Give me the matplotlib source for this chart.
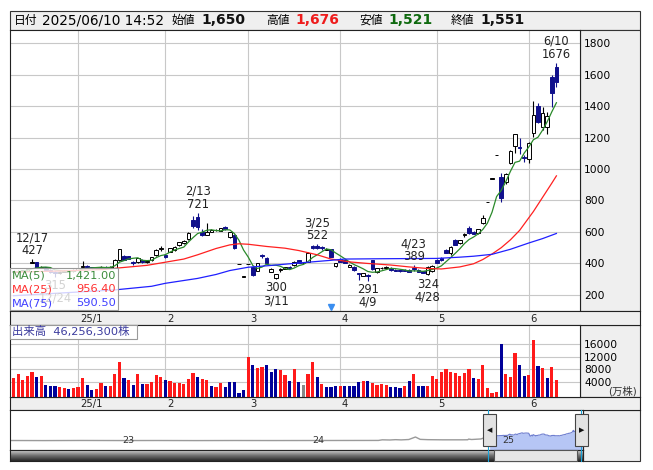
import numpy as np
import pandas as pd
import matplotlib
matplotlib.use("Agg")
import matplotlib.pyplot as plt
from matplotlib.patches import Rectangle
from matplotlib.lines import Line2D
from matplotlib.colors import LinearSegmentedColormap

plt.rcParams["font.family"] = ["DejaVu Sans", "Noto Sans CJK JP"]

# --- 取引日 (2024/12/11 - 2025/06/10) ---
holidays = ["2024-12-31", "2025-01-01", "2025-01-02", "2025-01-03", "2025-01-13",
            "2025-02-11", "2025-02-24", "2025-03-20", "2025-04-29", "2025-05-05", "2025-05-06"]
dates = pd.bdate_range("2024-12-11", "2025-06-10", freq="C", holidays=holidays)

opens = [345, 348, 350, 355, 405, 408, 372, 378, 358, 345,
         340, 348, 355, 350, 360, 375, 383, 377, 370, 372,
         378, 372, 372, 422, 448, 445, 411, 411, 425, 410,
         422, 454, 494, 454, 475, 486, 517, 528, 554, 676,
         697, 602, 581, 602, 612, 608, 634, 566, 581, 397,
         317, 397, 380, 354, 452, 433, 348, 306, 360, 366,
         380, 390, 420, 400, 411, 510, 510, 507, 488, 492,
         386, 428, 422, 380, 380, 340, 323, 325, 420, 345,
         370, 372, 372, 360, 356, 358, 360, 368, 358, 350,
         333, 350, 425, 435, 486, 467, 549, 528, 583, 625,
         600, 594, 657, 789, 939, 1089, 950, 917, 1038, 1146,
         1140, 1078, 1063, 1228, 1400, 1269, 1269, 1586, 1650]
highs = [358, 356, 360, 368, 427, 410, 385, 380, 362, 350,
         352, 358, 358, 364, 372, 416, 388, 380, 378, 382,
         381, 384, 426, 495, 452, 448, 414, 436, 428, 422,
         442, 490, 510, 458, 500, 510, 538, 546, 600, 700,
         721, 620, 657, 618, 620, 628, 638, 602, 590, 397,
         317, 397, 385, 405, 460, 438, 368, 335, 372, 380,
         384, 415, 424, 410, 475, 515, 522, 510, 500, 495,
         405, 432, 425, 394, 384, 341, 340, 330, 425, 372,
         380, 384, 376, 364, 360, 362, 364, 389, 362, 354,
         382, 388, 430, 440, 492, 512, 555, 552, 595, 635,
         604, 622, 708, 789, 939, 1089, 975, 975, 1120, 1225,
         1200, 1090, 1170, 1434, 1421, 1394, 1360, 1600, 1676]
lows = [340, 344, 347, 350, 400, 368, 368, 356, 342, 315,
        336, 345, 346, 348, 356, 370, 372, 366, 366, 368,
        368, 370, 370, 418, 420, 426, 392, 405, 405, 406,
        418, 450, 480, 436, 470, 482, 512, 524, 550, 625,
        613, 575, 578, 598, 606, 604, 612, 560, 490, 397,
        317, 397, 320, 350, 432, 400, 345, 300, 348, 362,
        368, 386, 400, 396, 408, 490, 495, 488, 484, 440,
        380, 408, 402, 376, 355, 296, 318, 291, 360, 340,
        364, 366, 355, 352, 348, 350, 343, 355, 345, 338,
        324, 346, 400, 415, 465, 455, 515, 524, 565, 590,
        588, 590, 650, 789, 939, 1089, 790, 905, 1030, 1100,
        1095, 1045, 1040, 1205, 1290, 1250, 1225, 1396, 1521]
closes = [350, 352, 356, 362, 412, 372, 380, 360, 345, 340,
          348, 355, 350, 360, 368, 385, 375, 370, 374, 378,
          372, 380, 422, 490, 425, 430, 400, 433, 410, 418,
          439, 486, 498, 440, 497, 507, 535, 543, 596, 640,
          634, 581, 602, 613, 614, 624, 617, 598, 497, 397,
          317, 397, 327, 401, 445, 405, 363, 331, 365, 375,
          372, 411, 405, 405, 469, 500, 498, 500, 492, 443,
          401, 411, 405, 390, 359, 336, 338, 320, 365, 370,
          374, 378, 358, 355, 350, 353, 345, 362, 348, 340,
          378, 384, 405, 420, 469, 507, 520, 549, 587, 595,
          590, 619, 689, 789, 939, 1089, 815, 968, 1114, 1222,
          1133, 1068, 1165, 1343, 1300, 1357, 1336, 1480, 1551]

# 出来高 (万株)
volumes = [5200, 6400, 4500, 5900, 7100, 5550, 5800, 2860, 2540, 2540,
           2300, 2000, 1700, 2000, 2300, 5200, 2860, 1250, 1700, 3600,
           2650, 2650, 6400, 10400, 5200, 4500, 2860, 6400, 3200, 3200,
           3940, 6100, 5450, 4500, 4150, 3500, 3500, 3100, 4800, 6840,
           5450, 4800, 4500, 2540, 2300, 3500, 2300, 3830, 3830, 400,
           1250, 12000, 9300, 8450, 8670, 9300, 7160, 8000, 7700, 6100,
           4150, 8000, 3830, 2860, 6400, 10300, 5450, 3400, 2200, 2200,
           2540, 2540, 2540, 2540, 2540, 3830, 4150, 4150, 3500, 2860,
           3300, 2860, 2200, 2200, 1900, 2540, 4150, 6400, 2540, 2540,
           2540, 5770, 4800, 7050, 8000, 7050, 6730, 5770, 6730, 8000,
           5100, 4800, 9300, 1900, 280, 600, 16000, 6400, 5450, 13200,
           9300, 5770, 6100, 17400, 9000, 8350, 5100, 8670, 4626]
# u = 前日比上昇, d = 下落, n = 変わらず
vol_dir = ("uuuuududdd" "uuduuudduu" "duuudududu" "uuuduuuuuu"
           "duuduudddd" "duduuddduu" "dudnuududd" "dudddduduu" "uudddududd"
           "uuuuuuuuuu" "duuuuuduuu" "dduududuu")

ma5 = [345, 348, 352, 356,
       366, 371, 376, 377, 374, 359, 355, 350, 348, 351,
       356, 364, 368, 372, 374, 376, 374, 375, 385, 408,
       418, 429, 433, 436, 420, 418, 420, 437, 450, 456,
       472, 486, 495, 504, 536, 564, 590, 599, 611, 614,
       609, 607, 614, 613, 590, 547, 485, 441, 387, 368,
       377, 395, 388, 389, 382, 368, 361, 371, 386, 394,
       412, 438, 455, 474, 492, 487, 467, 449, 430, 410,
       393, 380, 366, 349, 344, 346, 353, 361, 369, 367,
       363, 359, 352, 353, 352, 350, 355, 362, 371, 385,
       411, 437, 464, 493, 526, 552, 568, 588, 616, 656,
       725, 825, 864, 920, 985, 1042, 1050, 1101, 1140, 1186,
       1202, 1247, 1300, 1363, 1421.00]
ma25_idx = [0, 10, 20, 23, 29, 33, 37, 40, 44, 47, 49, 51, 55, 59, 62, 66, 69, 73,
            77, 82, 86, 90, 93, 97, 100, 102, 104, 106, 108, 110, 112, 113, 115, 116, 117, 118]
ma25_val = [345, 352, 362, 372, 388, 408, 428, 455, 495, 518, 525, 522, 508, 497, 482, 455, 428, 410,
            400, 390, 378, 368, 365, 378, 398, 425, 460, 500, 550, 610, 690, 730, 820, 865, 910, 956.40]
ma75_idx = [0, 22, 30, 33, 40, 44, 47, 51, 55, 62, 69, 72, 80, 92, 97, 100, 104, 108, 112, 115, 118]
ma75_val = [195, 232, 255, 274, 305, 330, 355, 376, 385, 403, 420, 428, 430, 432, 440, 446,
            458, 490, 530, 558, 590.50]

high_marks = [(4, "12/17"), (40, "2/13"), (66, "3/25"), (87, "4/23"), (118, "6/10")]
low_marks = [(9, "12/24"), (57, "3/11"), (77, "4/9"), (90, "4/28")]
total_shares = 46256300
month_labels = ["25/1", "2", "3", "4", "5", "6"]

# ナビゲーター (2022年後半〜2024/12)
nav_years = [2022.42, 2022.6, 2022.8, 2023.0, 2023.2, 2023.4, 2023.6, 2023.8, 2024.0,
             2024.2, 2024.36, 2024.38, 2024.42, 2024.45, 2024.48, 2024.52, 2024.555,
             2024.58, 2024.62, 2024.7, 2024.8, 2024.83, 2024.835, 2024.85, 2024.9, 2024.945]
nav_prices = [130, 128, 131, 129, 130, 128, 130, 129, 130,
              131, 132, 150, 145, 155, 148, 160, 270,
              165, 155, 150, 150, 152, 175, 160, 180, 350]

# --- layout helpers (pixel coords, top-left origin) ---
W, H = 653, 470
fig = plt.figure(figsize=(W / 100, H / 100), dpi=100)


def rect(x0, y0, x1, y1):
    return [x0 / W, 1 - y1 / H, (x1 - x0) / W, (y1 - y0) / H]


def box(x0, y0, x1, y1, fc, ec="#333333", lw=0.8, z=-1, alpha=1.0):
    fig.add_artist(Rectangle((x0 / W, 1 - y1 / H), (x1 - x0) / W, (y1 - y0) / H,
                             transform=fig.transFigure, facecolor=fc, edgecolor=ec,
                             lw=lw, zorder=z, alpha=alpha))


def ftext(x, y, s, **kw):
    fig.text(x / W, 1 - y / H, s, **kw)


def px2i(p):
    return (p - 13.6) / 4.6


def frame(a):
    for s in a.spines.values():
        s.set_color("#222222")
        s.set_linewidth(0.8)


GRAY = "#efefef"
GRID = "#c8c8c8"
NAVY = "#10108c"
x = np.arange(len(dates))
o, h, l, c = (np.array(a, dtype=float) for a in (opens, highs, lows, closes))
month_idx = [int(np.argmax(dates.month == m)) for m in [1, 2, 3, 4, 5, 6]]

# header
box(10, 11, 640, 30, GRAY, z=-1)
hy = 20.5
ftext(14, hy, "日付", fontsize=8.5, va="center")
ftext(42, hy, dates[-1].strftime("%Y/%m/%d") + " 14:52", fontsize=9.8, va="center")
for xl, lab, val, col in [(172, "始値", opens[-1], "#111111"), (266, "高値", highs[-1], "#ee1c1c"),
                          (359, "安値", lows[-1], "#0f6a0f"), (451, "終値", closes[-1], "#111111")]:
    ftext(xl, hy, lab, fontsize=8.5, va="center")
    ftext(xl + 29, hy, f"{val:,}", fontsize=10, fontweight="bold", color=col, va="center")

# --- price panel ---
box(580, 30, 640, 311, GRAY, z=-1)
ax = fig.add_axes(rect(10, 30, 580, 311))
ax.set_xlim(px2i(10), px2i(580))
ax.set_ylim(98, 1883)
ax.set_yticks(range(200, 1801, 200))
ax.set_xticks([])
ax.yaxis.tick_right()
ax.tick_params(axis="y", length=0, pad=3, labelsize=7.7)
ax.grid(axis="y", color=GRID, lw=0.8)
for mi in month_idx:
    ax.axvline(mi, color=GRID, lw=0.8, zorder=0)
frame(ax)

up = c >= o
body_lo = np.minimum(o, c)
body_h = np.maximum(np.abs(c - o), 2)
ax.vlines(x[up], l[up], h[up], color="black", lw=0.8, zorder=2)
ax.vlines(x[~up], l[~up], h[~up], color=NAVY, lw=0.8, zorder=2)
ax.bar(x[up], body_h[up], bottom=body_lo[up], width=0.78, facecolor="white",
       edgecolor="black", lw=0.7, zorder=3)
ax.bar(x[~up], body_h[~up], bottom=body_lo[~up], width=0.78, facecolor=NAVY,
       edgecolor=NAVY, lw=0.7, zorder=3)

ax.plot(x, ma5, color="#2a8a2a", lw=0.9, zorder=4)
ax.plot(ma25_idx, ma25_val, color="#ff2020", lw=0.9, zorder=4)
ax.plot(ma75_idx, ma75_val, color="#2020ff", lw=0.9, zorder=4)
ax.plot(69, 126, marker="v", color="#3a8ef0", ms=5, zorder=5)

for i, d in high_marks:
    ax.annotate(f"{d}\n{highs[i]}", (i, highs[i]), xytext=(0, 1.5), textcoords="offset points",
                ha="center", va="bottom", fontsize=8.3, linespacing=1.0, color="#222222", zorder=6)
for i, d in low_marks:
    ax.annotate(f"{lows[i]}\n{d}", (i, lows[i]), xytext=(0, -1.5), textcoords="offset points",
                ha="center", va="top", fontsize=8.3, linespacing=1.0, color="#222222", zorder=6)

# MA legend (semi transparent, the 12/24 label shows through faintly)
box(10, 268, 118, 310, "white", ec="none", z=5, alpha=0.8)
box(10, 268, 118, 310, "none", ec="#9a9a9a", z=5)
for yy, name, vals, col in [(276, "MA(5)", ma5, "#3c8c3c"), (289.5, "MA(25)", ma25_val, "#ff3030"),
                            (303.5, "MA(75)", ma75_val, "#4040ff")]:
    ftext(12, yy, name, fontsize=8.2, color=col, va="center", zorder=6)
    ftext(116, yy, f"{vals[-1]:,.2f}", fontsize=8.2, color=col, va="center", ha="right", zorder=6)

# --- date strips ---
for y0, y1 in [(311, 325), (397, 410)]:
    sa = fig.add_axes(rect(10, y0, 640, y1))
    sa.set_xlim(px2i(10), px2i(640))
    sa.set_ylim(0, 1)
    sa.set_facecolor(GRAY)
    sa.set_xticks([])
    sa.set_yticks([])
    frame(sa)
    for mi, lab in zip(month_idx, month_labels):
        sa.text(mi + 0.4, 0.45, lab, ha="left", va="center", fontsize=7.2, color="#222222")

# --- volume panel ---
box(580, 325, 640, 397, GRAY, z=-1)
axv = fig.add_axes(rect(10, 325, 580, 397))
vfloor = -935
axv.set_xlim(px2i(10), px2i(580))
axv.set_ylim(vfloor, 22290)
axv.set_yticks([4000, 8000, 12000, 16000])
axv.set_xticks([])
axv.yaxis.tick_right()
axv.tick_params(axis="y", length=0, pad=3, labelsize=7.7)
axv.grid(axis="y", color=GRID, lw=0.8)
for mi in month_idx:
    axv.axvline(mi, color=GRID, lw=0.8, zorder=0)
frame(axv)
vcol = {"u": "#ff1a1a", "d": "#000099", "n": "#888888"}
axv.bar(x, np.array(volumes) - vfloor, bottom=vfloor, width=0.68,
        color=[vcol[k] for k in vol_dir], zorder=2)
ftext(637, 391, "(万株)", fontsize=7.5, ha="right", va="center", color="#333333")
box(10, 325, 137, 339, "white", ec="#9a9a9a", z=5)
ftext(12, 332, f"出来高  {total_shares:,}株", fontsize=8.2, color="#3b3b9e", va="center", zorder=6)

# --- navigator ---
box(583, 410, 640, 461, GRAY, z=-1)


def t_of_px(p):
    return 2023 + (p - 120) / 190


axn = fig.add_axes(rect(10, 410, 583, 450))
axn.set_xlim(t_of_px(10), t_of_px(583))
axn.set_yscale("log")
axn.set_ylim(18, 75000)
axn.set_xticks([])
axn.set_yticks([])
axn.minorticks_off()
frame(axn)
tw = dates.year + (dates.dayofyear - 1) / 365.0
axn.plot(nav_years, nav_prices, color="#9a9a9a", lw=1.0)
axn.fill_between(tw, closes, 10, color="#b6c6f5", lw=0)
axn.plot(tw, closes, color="#6f7fd0", lw=0.8)
for yr in [2023, 2024, 2025]:
    axn.text(yr + 0.01, 118, str(yr)[2:], fontsize=6.8, ha="left", va="center", color="#333333")

# scrollbar
sb = fig.add_axes(rect(10, 450, 583, 461))
cm = LinearSegmentedColormap.from_list("sb", ["#d0d0d0", "#707070", "#2a2a2a"])
sb.imshow(np.linspace(0, 1, 20).reshape(-1, 1), aspect="auto", cmap=cm, extent=(0, 1, 0, 1))
sb.set_xticks([])
sb.set_yticks([])
frame(sb)
box(494, 450, 577, 461, "#e6e6e6", ec="#555555", z=5)

for cx in [488, 581]:
    fig.add_artist(Line2D([cx / W, cx / W], [1 - 410 / H, 1 - 461 / H], color="#19a3d9",
                          lw=0.8, transform=fig.transFigure, zorder=5))
for hx, tri in [(483, "◀"), (575, "▶")]:
    box(hx, 414, hx + 13, 446, "#e2e2e2", ec="#444444", z=6)
    ftext(hx + 6.5, 430, tri, fontsize=5, ha="center", va="center", zorder=7, color="#111111")

fig.savefig("out.png", dpi=100)
